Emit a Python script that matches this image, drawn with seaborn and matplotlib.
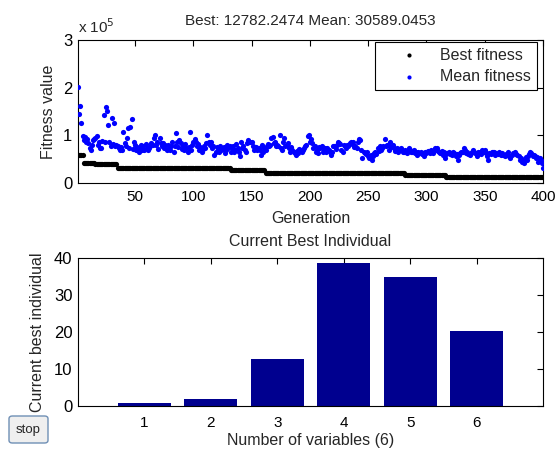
import numpy as np
import pandas as pd
import matplotlib
matplotlib.use("Agg")
import matplotlib.pyplot as plt
import seaborn as sns
from matplotlib.patches import FancyBboxPatch

# ---- data -------------------------------------------------------------
n_generations = 400

# best fitness per generation as step levels and the number of generations each lasted
best_levels = [58000, 42000, 40000, 31000, 26500, 22000, 17000, 12782.2474]
best_runs = [5, 10, 19, 97, 30, 120, 35, 84]

# mean fitness per generation (thousands)
mean_fitness_k = [
    201, 145, 161, 125, 99, 90, 97, 86, 92, 84, 73, 70, 80, 90, 93, 95, 99, 80, 86, 73,
    73, 88, 143, 86, 160, 152, 122, 87, 77, 137, 82, 125, 78, 80, 77, 73, 70, 76, 70, 108,
    84, 78, 94, 115, 74, 117, 134, 72, 87, 80, 70, 75, 66, 73, 80, 69, 77, 70, 82, 73,
    70, 74, 77, 84, 79, 94, 101, 80, 86, 72, 94, 83, 77, 84, 73, 79, 70, 80, 74, 70,
    77, 85, 66, 78, 105, 87, 76, 90, 84, 72, 77, 70, 81, 73, 66, 75, 108, 70, 79, 87,
    92, 87, 78, 82, 70, 76, 66, 71, 77, 73, 84, 101, 87, 80, 87, 74, 77, 59, 66, 75,
    73, 66, 78, 69, 71, 76, 63, 70, 80, 73, 77, 66, 74, 77, 66, 70, 82, 73, 66, 56,
    87, 73, 77, 70, 66, 84, 91, 85, 87, 86, 78, 70, 73, 75, 70, 73, 70, 59, 80, 66,
    74, 70, 77, 82, 78, 80, 94, 96, 84, 87, 78, 80, 77, 101, 73, 70, 86, 94, 77, 80,
    84, 73, 66, 76, 70, 66, 62, 59, 68, 63, 72, 70, 66, 70, 74, 77, 80, 98, 101, 87,
    93, 84, 73, 77, 66, 70, 63, 75, 73, 77, 66, 70, 73, 66, 74, 70, 66, 59, 66, 77,
    78, 72, 80, 86, 84, 82, 70, 66, 80, 77, 73, 80, 78, 84, 87, 82, 87, 76, 77, 73,
    87, 93, 90, 70, 52, 66, 63, 60, 65, 56, 52, 58, 49, 56, 62, 66, 60, 73, 68, 77,
    70, 74, 78, 92, 77, 80, 80, 70, 87, 75, 80, 73, 68, 70, 73, 66, 72, 73, 70, 64,
    66, 70, 63, 68, 73, 70, 64, 66, 70, 63, 66, 59, 64, 63, 66, 60, 63, 56, 66, 63,
    68, 66, 62, 70, 66, 63, 73, 70, 73, 68, 66, 63, 67, 59, 66, 52, 60, 63, 66, 61,
    63, 59, 66, 62, 56, 60, 49, 59, 63, 66, 64, 73, 70, 63, 66, 60, 59, 62, 66, 70,
    66, 62, 56, 64, 63, 66, 61, 70, 66, 70, 63, 56, 49, 63, 60, 66, 64, 66, 59, 63,
    60, 66, 62, 59, 63, 58, 56, 61, 59, 64, 56, 52, 59, 62, 63, 66, 60, 59, 56, 49,
    52, 45, 48, 42, 55, 49, 56, 60, 66, 63, 57, 59, 56, 52, 55, 45, 53, 49, 42, 30.5890453,
]

# current best individual (one value per variable)
variables = [1, 2, 3, 4, 5, 6]
best_individual = [0.9, 1.9, 12.65, 38.6, 35.0, 20.2]

best_text = "12782.2474"
mean_text = "30589.0453"

# ---- frames -----------------------------------------------------------
generation = np.arange(1, n_generations + 1)
fit = pd.DataFrame({
    "generation": generation,
    "best": np.repeat(best_levels, best_runs),
    "mean": np.asarray(mean_fitness_k) * 1000.0,
})
ind = pd.DataFrame({"variable": variables, "value": best_individual})

# ---- style ------------------------------------------------------------
sns.set_style("white")
plt.rcParams["font.family"] = ["Liberation Sans", "DejaVu Sans"]
plt.rcParams["font.size"] = 11
plt.rcParams["axes.linewidth"] = 0.8
plt.rcParams["xtick.direction"] = "in"
plt.rcParams["ytick.direction"] = "in"
plt.rcParams["xtick.major.size"] = 4
plt.rcParams["ytick.major.size"] = 4
plt.rcParams["xtick.major.width"] = 0.8
plt.rcParams["ytick.major.width"] = 0.8
plt.rcParams["xtick.color"] = "black"
plt.rcParams["ytick.color"] = "black"
plt.rcParams["axes.edgecolor"] = "black"

fig = plt.figure(figsize=(5.6, 4.5), dpi=100)
fig.patch.set_facecolor("white")

W, H = 560.0, 450.0
def box(l, t, r, b):
    return [l / W, 1 - b / H, (r - l) / W, (b - t) / H]

# ---- top: fitness per generation --------------------------------------
ax1 = fig.add_axes(box(78, 40, 543, 183))
sns.scatterplot(data=fit, x="generation", y="best", color="black", s=14,
                linewidth=0, ax=ax1, label="Best fitness", zorder=3)
sns.scatterplot(data=fit, x="generation", y="mean", color="blue", s=14,
                linewidth=0, ax=ax1, label="Mean fitness", zorder=3)
ax1.set_xlim(1, n_generations)
ax1.set_ylim(0, 3e5)
ax1.set_xticks([50, 100, 150, 200, 250, 300, 350, 400])
ax1.set_yticks([0, 1e5, 2e5, 3e5])
ax1.set_yticklabels(["0", "1", "2", "3"], fontsize=12)
ax1.tick_params(axis="x", labelsize=11, top=True, pad=5)
ax1.tick_params(axis="y", right=True, pad=4)
ax1.set_xlabel("Generation", fontsize=11.5, labelpad=5)
ax1.set_ylabel("Fitness value", fontsize=11.5, labelpad=5)
ax1.set_title(f"Best: {best_text} Mean: {mean_text}", fontsize=11, pad=11)
ax1.text(0.0, 1.03, r"x 10$^{5}$", transform=ax1.transAxes, fontsize=11,
         ha="left", va="bottom")
for sp in ax1.spines.values():
    sp.set_visible(True)
    sp.set_color("black")
leg = ax1.legend(loc="upper right", bbox_to_anchor=(0.987, 0.986), borderaxespad=0,
                 frameon=True, fancybox=False, edgecolor="black", framealpha=1,
                 fontsize=11.5, handletextpad=0.15, borderpad=0.35, labelspacing=0.4,
                 handlelength=3.6, markerscale=0.8)
leg.get_frame().set_linewidth(0.8)

# ---- bottom: current best individual ----------------------------------
ax2 = fig.add_axes(box(78, 258, 543, 406))
sns.barplot(data=ind, x="variable", y="value", native_scale=True, width=0.8,
            color="#00008F", saturation=1, ax=ax2, edgecolor="none", errorbar=None)
ax2.set_xlim(0, 7)
ax2.set_ylim(0, 40)
ax2.set_xticks(variables)
ax2.set_xticklabels([str(v) for v in variables], fontsize=11)
ax2.set_yticks([0, 10, 20, 30, 40])
ax2.tick_params(axis="y", labelsize=12, right=True, pad=4)
ax2.tick_params(axis="x", top=True, pad=7)
ax2.set_xlabel(f"Number of variables ({len(variables)})", fontsize=11.5, labelpad=2)
ax2.set_ylabel("Current best individual", fontsize=11.5, labelpad=6)
ax2.set_title("Current Best Individual", fontsize=11.5, pad=9)
for sp in ax2.spines.values():
    sp.set_visible(True)
    sp.set_color("black")

# ---- stop button ------------------------------------------------------
btn = FancyBboxPatch((9 / W, 1 - 443 / H), 39 / W, 27 / H,
                     boxstyle="round,pad=0,rounding_size=0.006",
                     transform=fig.transFigure, facecolor="#efefef",
                     edgecolor="#6f8fb5", linewidth=1.0)
fig.patches.append(btn)
fig.text(28.5 / W, 1 - 430 / H, "stop", ha="center", va="center", fontsize=9.5)

fig.savefig("out.png", dpi=100, facecolor="white")
